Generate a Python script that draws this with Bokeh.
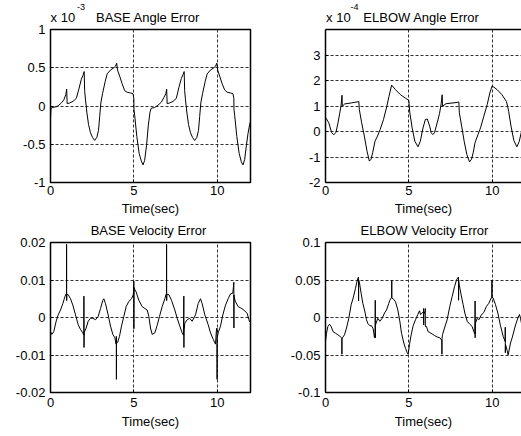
from bokeh.plotting import figure
from bokeh.models import Range1d, LinearAxis, FixedTicker, PrintfTickFormatter
from bokeh.layouts import column, row
from bokeh.embed import file_html
from bokeh.resources import INLINE

# ---------------- data ----------------
x_ticks = [0, 5, 10]

# BASE Angle Error (units of 1e-3)
base_ang_t = [0.00, 0.03, 0.10, 0.35, 0.50, 0.65, 0.80, 0.92, 0.97, 1.00, 1.15, 1.35, 1.55, 1.70,
              1.85, 1.95, 2.02, 2.05, 2.10, 2.18, 2.28, 2.40, 2.52, 2.65, 2.78, 2.88, 2.95, 3.02,
              3.12, 3.28, 3.40, 3.60, 3.80, 3.90, 3.97, 4.02, 4.15, 4.30, 4.45, 4.60, 4.80, 4.95,
              5.00, 5.01, 5.05, 5.18, 5.32, 5.45, 5.55, 5.65, 5.76, 5.87, 5.97, 6.04,
              6.25, 6.45, 6.65, 6.80, 6.92, 6.97, 7.00, 7.15, 7.35, 7.55, 7.70, 7.85, 7.95, 8.02,
              8.05, 8.10, 8.18, 8.28, 8.40, 8.52, 8.65, 8.78, 8.88, 8.95, 9.02, 9.12, 9.28, 9.40,
              9.60, 9.80, 9.90, 9.98, 10.03, 10.15, 10.30, 10.45, 10.60, 10.80, 10.95, 11.00,
              11.01, 11.05, 11.18, 11.32, 11.45, 11.55, 11.65, 11.75, 11.85, 11.95, 12.00]
base_ang_v = [-0.15, -0.03, -0.02, -0.01, 0.01, 0.04, 0.08, 0.15, 0.22, 0.03, 0.04, 0.06, 0.10, 0.22,
              0.35, 0.40, 0.45, 0.20, 0.08, -0.08, -0.24, -0.35, -0.41, -0.45, -0.41, -0.32, -0.14, 0.04,
              0.16, 0.32, 0.42, 0.47, 0.50, 0.52, 0.56, 0.47, 0.39, 0.29, 0.20, 0.18, 0.17, 0.16,
              0.10, -0.05, -0.12, -0.40, -0.62, -0.72, -0.77, -0.71, -0.52, -0.25, -0.08, -0.03,
              -0.02, 0.01, 0.05, 0.11, 0.16, 0.22, 0.03, 0.04, 0.06, 0.10, 0.24, 0.36, 0.41, 0.45,
              0.20, 0.08, -0.08, -0.24, -0.35, -0.41, -0.45, -0.41, -0.32, -0.14, 0.04, 0.16, 0.32, 0.42,
              0.47, 0.50, 0.52, 0.56, 0.47, 0.39, 0.29, 0.21, 0.18, 0.17, 0.16, 0.10,
              -0.05, -0.12, -0.40, -0.62, -0.73, -0.77, -0.70, -0.52, -0.36, -0.24, -0.20]

# ELBOW Angle Error (units of 1e-4)
elbow_ang_t = [0.00, 0.06, 0.20, 0.36, 0.49, 0.63, 0.75, 0.85, 0.93, 0.99, 1.01, 1.15, 1.54, 1.90,
               2.00, 2.03, 2.17, 2.33, 2.49, 2.63, 2.73, 2.83, 2.97, 3.12, 3.28, 3.48, 3.68, 3.81,
               3.97, 4.20, 4.50, 4.80, 5.00, 5.06, 5.20, 5.36, 5.55, 5.69, 5.85, 5.99, 6.11, 6.25,
               6.34, 6.44, 6.54, 6.70, 6.84, 6.94, 7.00, 7.02, 7.23, 7.90, 8.00, 8.03, 8.17, 8.32,
               8.48, 8.64, 8.76, 8.87, 8.97, 9.15, 9.30, 9.50, 9.70, 9.86, 10.00, 10.30, 10.59,
               10.85, 10.93, 10.99, 11.13, 11.30, 11.48, 11.62, 11.76]
elbow_ang_v = [0.55, 0.49, 0.34, -0.03, -0.13, -0.03, 0.34, 0.70, 1.00, 1.42, 0.99, 1.08, 1.12, 1.16,
               1.18, 0.86, 0.34, -0.18, -0.77, -1.16, -1.09, -0.83, -0.38, -0.18, 0.08, 0.47, 0.99, 1.38,
               1.82, 1.64, 1.44, 1.31, 1.22, 0.73, 0.14, -0.38, -0.60, -0.38, 0.14, 0.47, 0.49, 0.21,
               -0.05, -0.12, -0.05, 0.34, 0.70, 1.09, 1.44, 0.99, 1.09, 1.14, 1.16, 0.73, 0.21, -0.38,
               -0.90, -1.19, -1.09, -0.81, -0.44, -0.12, 0.14, 0.60, 1.05, 1.51, 1.79, 1.64, 1.44,
               1.18, 0.99, 0.79, 0.21, -0.35, -0.60, -0.40, 0.00]

# BASE Velocity Error
base_vel_t = [0.00, 0.08, 0.20, 0.34, 0.46, 0.60, 0.74, 0.86, 0.94, 0.96, 0.965, 0.97, 0.98,
              1.06, 1.20, 1.34, 1.50, 1.66, 1.80, 1.94, 2.00, 2.005, 2.01, 2.02,
              2.14, 2.26, 2.40, 2.54, 2.70, 2.86, 3.00, 3.14, 3.20, 3.30, 3.46, 3.60, 3.74, 3.86, 3.94,
              3.95, 3.955, 3.96, 3.965,
              4.02, 4.14, 4.26, 4.40, 4.54, 4.70, 4.86, 4.96, 4.99, 5.00, 5.005, 5.01,
              5.04, 5.14, 5.30, 5.50, 5.66, 5.80, 5.90, 6.00, 6.10, 6.26, 6.40, 6.54, 6.70, 6.86, 6.94,
              6.96, 6.965, 6.97, 6.98,
              7.10, 7.26, 7.46, 7.60, 7.76, 7.90, 7.98, 8.00, 8.005, 8.01, 8.02,
              8.06, 8.20, 8.34, 8.50, 8.70, 8.86, 9.00, 9.10, 9.26, 9.46, 9.60, 9.76, 9.90, 9.96,
              9.99, 9.995, 10.00, 10.005,
              10.06, 10.20, 10.34, 10.50, 10.66, 10.80, 10.94, 11.00, 11.005, 11.01, 11.015,
              11.10, 11.26, 11.40, 11.60, 11.80, 11.90, 11.95, 12.00]
base_vel_v = [-0.0038, -0.0045, -0.0037, -0.0010, 0.0007, 0.0020, 0.0037, 0.0055, 0.0063, 0.0064, 0.0195, 0.0045, 0.0062,
              0.0061, 0.0050, 0.0033, 0.0007, -0.0019, -0.0032, -0.0041, -0.0047, 0.0057, -0.0080, -0.0040,
              -0.0028, -0.0010, -0.0002, -0.0002, -0.0006, 0.0003, 0.0024, 0.0046, 0.0050, 0.0037, 0.0007, -0.0023, -0.0045, -0.0054, -0.0071,
              -0.0050, -0.0165, -0.0068, -0.0069,
              -0.0067, -0.0050, -0.0023, 0.0003, 0.0029, 0.0043, 0.0050, 0.0060, 0.0070, 0.0097, -0.0030, 0.0080,
              0.0076, 0.0068, 0.0046, 0.0029, 0.0024, 0.0020, 0.0003, -0.0028, -0.0045, -0.0041, -0.0021, 0.0003, 0.0029, 0.0050, 0.0063,
              0.0064, 0.0195, 0.0045, 0.0062,
              0.0061, 0.0046, 0.0020, -0.0002, -0.0023, -0.0041, -0.0047, 0.0057, -0.0080, -0.0040,
              -0.0032, -0.0015, -0.0006, -0.0002, -0.0010, 0.0007, 0.0037, 0.0050, 0.0037, 0.0007, -0.0019, -0.0041, -0.0058, -0.0071,
              -0.0030, -0.0028, -0.0165, -0.0055,
              -0.0054, -0.0041, -0.0023, 0.0007, 0.0033, 0.0050, 0.0063, 0.0065, 0.0094, -0.0028, 0.0060,
              0.0055, 0.0042, 0.0029, 0.0026, 0.0020, 0.0011, -0.0005, -0.0012]

# ELBOW Velocity Error
elbow_vel_t = [0.00, 0.06, 0.14, 0.24, 0.34, 0.46, 0.60, 0.74, 0.86, 0.96, 0.98, 0.985, 0.99,
               1.02, 1.14, 1.26, 1.40, 1.54, 1.66, 1.80, 1.90, 1.96, 1.98, 1.985, 1.99,
               2.04, 2.14, 2.24, 2.34, 2.46, 2.54, 2.66, 2.76, 2.86, 2.94, 2.98, 2.985, 2.99, 3.00,
               3.06, 3.14, 3.26, 3.40, 3.54, 3.66, 3.80, 3.86, 3.94, 3.97, 3.975, 3.98,
               4.06, 4.20, 4.34, 4.46, 4.56, 4.70, 4.80, 4.90, 4.96, 5.04, 5.14, 5.26, 5.40, 5.54,
               5.64, 5.70, 5.80, 5.88, 5.885, 5.89, 5.90, 5.98, 5.985, 5.99,
               6.06, 6.16, 6.26, 6.40, 6.54, 6.70, 6.86, 6.96, 6.98, 6.985, 6.99,
               7.02, 7.14, 7.30, 7.46, 7.60, 7.74, 7.86, 7.94, 7.98, 7.985, 7.99,
               8.02, 8.14, 8.26, 8.36, 8.50, 8.66, 8.80, 8.90, 8.97, 8.975, 8.98, 8.99,
               9.10, 9.20, 9.34, 9.50, 9.66, 9.80, 9.94, 9.98, 9.985, 9.99,
               10.06, 10.20, 10.34, 10.50, 10.66, 10.78, 10.785, 10.79, 10.80,
               10.90, 10.96, 11.10, 11.20, 11.40, 11.54, 11.64, 11.70, 11.76]
elbow_vel_v = [-0.032, -0.021, -0.012, -0.009, -0.012, -0.019, -0.021, -0.023, -0.025, -0.027, -0.028, -0.049, -0.027,
               -0.027, -0.023, -0.014, -0.001, 0.017, 0.026, 0.039, 0.049, 0.053, 0.054, 0.022, 0.050,
               0.046, 0.032, 0.019, 0.010, -0.003, -0.008, -0.011, -0.011, -0.015, -0.027, -0.020, 0.023, -0.027, -0.010,
               -0.006, -0.001, -0.005, -0.001, 0.006, 0.010, 0.019, 0.023, 0.026, 0.027, 0.050, 0.026,
               0.025, 0.021, 0.010, -0.005, -0.021, -0.034, -0.041, -0.047, -0.049, -0.036, -0.023, -0.011, -0.003, 0.004,
               0.009, 0.004, 0.006, 0.008, 0.012, -0.010, 0.004, 0.009, 0.012, -0.012,
               -0.012, -0.019, -0.020, -0.022, -0.024, -0.026, -0.027, -0.030, -0.030, -0.049, -0.028,
               -0.023, -0.014, -0.003, 0.015, 0.028, 0.041, 0.050, 0.053, 0.054, 0.023, 0.050,
               0.044, 0.030, 0.017, 0.006, -0.005, -0.009, -0.012, -0.019, -0.022, 0.022, -0.027, -0.008,
               -0.001, -0.003, 0.003, 0.007, 0.015, 0.019, 0.026, 0.026, 0.050, 0.027,
               0.026, 0.017, 0.006, -0.011, -0.025, -0.032, -0.013, -0.047, -0.036,
               -0.044, -0.050, -0.034, -0.027, -0.010, -0.001, 0.004, -0.001, -0.008]

FONT = "Liberation Sans"
FS = "13px"


def make_fig(width, height, y_range, y_ticks, x_end, mb, boxed, tick_so, label_so):
    p = figure(width=width, height=height, x_range=Range1d(0, x_end), y_range=Range1d(*y_range),
               output_backend="svg", toolbar_location=None,
               min_border_left=mb[0], min_border_right=mb[1], min_border_top=mb[2], min_border_bottom=mb[3])
    p.background_fill_color = "white"
    p.border_fill_color = "white"
    p.xaxis.ticker = FixedTicker(ticks=x_ticks)
    p.yaxis.ticker = FixedTicker(ticks=y_ticks)
    for ax in (p.xaxis, p.yaxis):
        ax.formatter = PrintfTickFormatter(format="%g")
        ax.major_label_text_font = FONT
        ax.major_label_text_font_size = FS
        ax.major_label_text_color = "black"
        ax.major_tick_in = 3
        ax.major_tick_out = 0
        ax.minor_tick_in = 0
        ax.minor_tick_out = 0
        ax.major_tick_line_color = "black"
    p.xaxis.major_label_standoff = tick_so
    p.yaxis.major_label_standoff = 5
    p.xaxis.axis_label = "Time(sec)"
    p.xaxis.axis_label_text_font = FONT
    p.xaxis.axis_label_text_font_size = FS
    p.xaxis.axis_label_text_font_style = "normal"
    p.xaxis.axis_label_text_color = "black"
    p.xaxis.axis_label_standoff = label_so
    p.grid.grid_line_color = "#303030"
    p.grid.grid_line_dash = "3 2"
    p.grid.grid_line_alpha = 1
    p.grid.grid_line_width = 1
    if boxed:
        p.outline_line_color = "black"
        p.outline_line_width = 1.5
        p.xaxis.axis_line_color = None
        p.yaxis.axis_line_color = None
    else:
        p.outline_line_color = None
        for ax in (p.xaxis, p.yaxis):
            ax.axis_line_color = "black"
            ax.axis_line_width = 1.5
    return p


def text_axis(p, items, standoff, size, line):
    """An extra axis above the frame whose tick labels carry the title texts."""
    ticks = [t for t, _ in items]
    ax = LinearAxis(ticker=FixedTicker(ticks=ticks),
                    major_label_overrides={t: s for t, s in items},
                    major_label_standoff=standoff,
                    major_label_text_font=FONT, major_label_text_font_size=size,
                    major_label_text_color="black",
                    major_tick_in=0, major_tick_out=0, minor_tick_in=0, minor_tick_out=0,
                    axis_line_color="black" if line else None, axis_line_width=1.5)
    p.add_layout(ax, "above")


RIGHT_END = 11.76

p1 = make_fig(275, 219, (-1, 1), [-1, -0.5, 0, 0.5, 1], 12, (50, 25, 28, 37), True, 3, 3)
p1.line(base_ang_t, base_ang_v, line_color="black", line_width=1)
text_axis(p1, [(0.74, "x 10"), (5.85, "BASE Angle Error")], 5, FS, False)
text_axis(p1, [(1.83, "-3")], -3, "9px", False)

p2 = make_fig(246, 219, (-2, 4), [-2, -1, 0, 1, 2, 3], RIGHT_END, (50, 0, 28, 37), False, 3, 3)
p2.line(elbow_ang_t, elbow_ang_v, line_color="black", line_width=1)
text_axis(p2, [(0.77, "x 10"), (5.76, "ELBOW Angle Error")], 5, FS, True)
text_axis(p2, [(1.74, "-4")], -3, "9px", False)

p3 = make_fig(275, 217, (-0.02, 0.02), [-0.02, -0.01, 0, 0.01, 0.02], 12, (50, 25, 21, 44), True, 5, 4)
p3.line(base_vel_t, base_vel_v, line_color="black", line_width=1)
text_axis(p3, [(5.88, "BASE Velocity Error")], 5, FS, False)

p4 = make_fig(246, 217, (-0.1, 0.1), [-0.1, -0.05, 0, 0.05, 0.1], RIGHT_END, (50, 0, 21, 44), False, 5, 4)
p4.line(elbow_vel_t, elbow_vel_v, line_color="black", line_width=1)
text_axis(p4, [(5.94, "ELBOW Velocity Error")], 5, FS, True)

layout = column(row(p1, p2), row(p3, p4))
open("out.html", "w").write(file_html(layout, INLINE))
